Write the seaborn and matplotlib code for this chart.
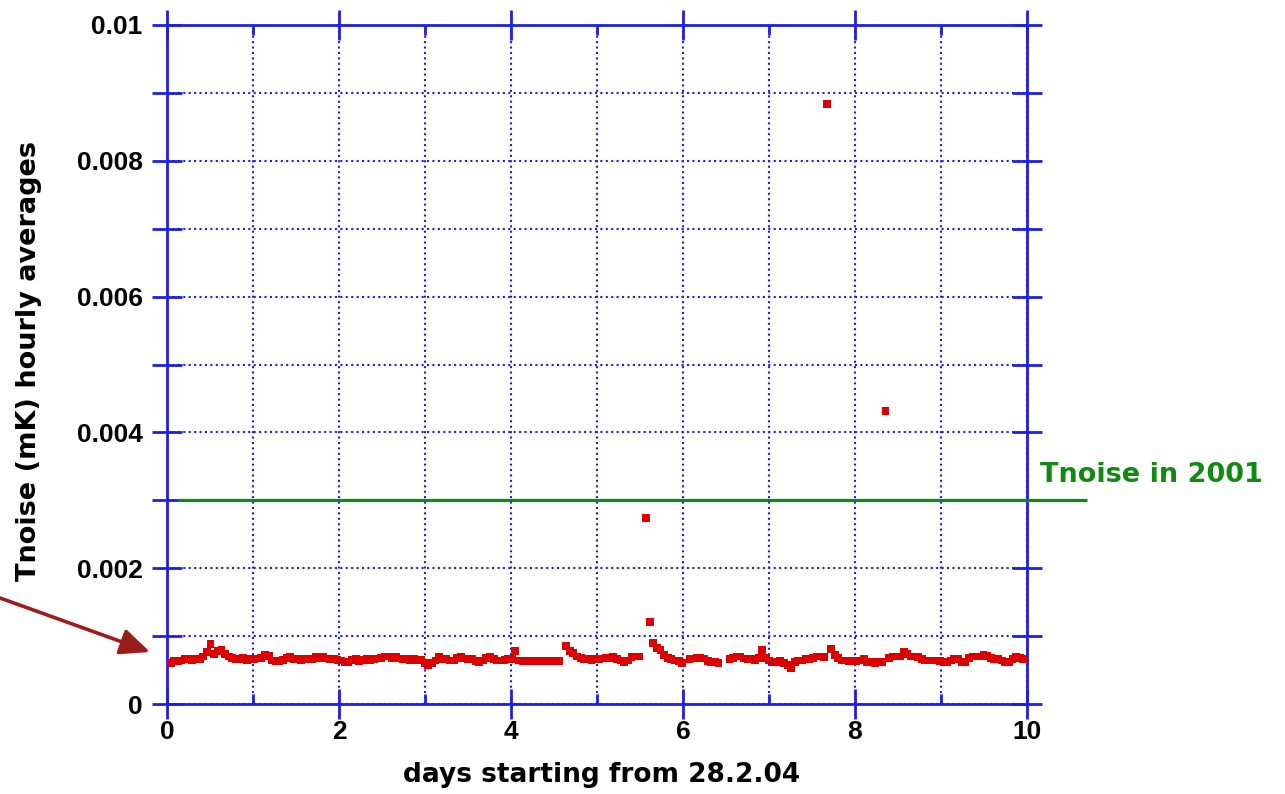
import numpy as np
import pandas as pd
import matplotlib
matplotlib.use("Agg")
import matplotlib.pyplot as plt
import seaborn as sns
from matplotlib.ticker import MultipleLocator, FixedLocator

# ---------------- data ----------------
nan = np.nan
tnoise = [
    # day 0
    0.00060, 0.00061, 0.00063, 0.00063, 0.00064, 0.00066, 0.00066, 0.00065, 0.00067, 0.00066,
    0.00070, 0.00076, 0.00088, 0.00074, 0.00078, 0.00080, 0.00074, 0.00070, 0.00068, 0.00066,
    0.00066, 0.00068, 0.00065, 0.00066,
    # day 1
    0.00066, 0.00067, 0.00068, 0.00072, 0.00071, 0.00064, 0.00063, 0.00063, 0.00065, 0.00068,
    0.00070, 0.00066, 0.00066, 0.00065, 0.00066,
    0.00066, 0.00066, 0.00070, 0.00068, 0.00070, 0.00067, 0.00066, 0.00066, 0.00065, 0.00064,
    0.00062, 0.00062, 0.00065, 0.00066, 0.00063, 0.00065, 0.00066, 0.00065, 0.00066, 0.00067,
    0.00068, 0.00070, 0.00070, 0.00068, 0.00070, 0.00067, 0.00066, 0.00066, 0.00065, 0.00066,
    0.00064, 0.00065, 0.00061, 0.00057, 0.00060, 0.00064, 0.00070, 0.00066, 0.00066,
    0.00064, 0.00064, 0.00068, 0.00070, 0.00067, 0.00066, 0.00066, 0.00063, 0.00062, 0.00064,
    0.00068, 0.00070, 0.00066, 0.00064, 0.00064, 0.00065, 0.00066, 0.00066, 0.00078, 0.00064,
    0.00063, 0.00064, 0.00063, 0.00063, 0.00064, 0.00063, 0.00063, 0.00063, 0.00064, 0.00063,
    0.00063,
    nan,
    0.00085, 0.00078, 0.00075, 0.00070, 0.00068, 0.00066, 0.00066, 0.00065, 0.00066, 0.00066,
    0.00067, 0.00068, 0.00068, 0.00070, 0.00066, 0.00064, 0.00062, 0.00064, 0.00069, 0.00070,
    0.00070,
    nan,
    0.00274, 0.00121,
    0.00090, 0.00083, 0.00080, 0.00072, 0.00068, 0.00066, 0.00064, 0.00063, 0.00060,
    nan,
    0.00066, 0.00067, 0.00068, 0.00068, 0.00067, 0.00063, 0.00062, 0.00062, 0.00060,
    nan, nan,
    0.00066, 0.00068, 0.00070, 0.00070, 0.00067, 0.00066, 0.00066, 0.00064, 0.00068, 0.00080,
    0.00068, 0.00064, 0.00062, 0.00062, 0.00063, 0.00060, 0.00058, 0.00053, 0.00062, 0.00064,
    0.00064, 0.00066, 0.00066, 0.00068, 0.00070, 0.00070, 0.00069,
    0.00884,
    0.00081, 0.00072, 0.00068, 0.00064, 0.00064, 0.00063, 0.00064, 0.00063, 0.00064, 0.00066,
    0.00062, 0.00062, 0.00061, 0.00062, 0.00062,
    0.00432,
    0.00068, 0.00070, 0.00070, 0.00070, 0.00076, 0.00074, 0.00070, 0.00070, 0.00069, 0.00066,
    0.00064, 0.00064, 0.00064, 0.00064, 0.00063, 0.00062, 0.00062, 0.00064, 0.00066, 0.00066,
    0.00062, 0.00062, 0.00068, 0.00070, 0.00070, 0.00070, 0.00072, 0.00071, 0.00068, 0.00066,
    0.00066, 0.00064, 0.00062, 0.00062, 0.00066, 0.00070, 0.00068, 0.00066, 0.00066,
]
days = np.linspace(0, 10, len(tnoise))  # hourly sampling over the 10 days

tnoise_2001 = 0.003
x_tick_values = [0, 2, 4, 6, 8, 10]
x_tick_labels = ["0", "2", "4", "6", "8", "10"]
y_tick_values = [0, 0.002, 0.004, 0.006, 0.008, 0.01]
y_tick_labels = ["0", "0.002", "0.004", "0.006", "0.008", "0.01"]
x_label = "days starting from 28.2.04"
y_label = "Tnoise (mK) hourly averages"
ref_label = "Tnoise in 2001"

df = pd.DataFrame({"days": days, "tnoise": tnoise})

# ---------------- style ----------------
sns.set_theme(style="white")
plt.rcParams["font.family"] = ["DejaVu Sans"]

BLUE = "#1e1ee6"
RED = "#dc0000"
GREEN = "#108a10"
DARKRED = "#9c1c1c"

fig = plt.figure(figsize=(12.85, 7.94), dpi=100, facecolor="white")
ax = fig.add_axes([167 / 1285, 90 / 794, 860 / 1285, 679 / 794])
ax.set_facecolor("white")

sns.scatterplot(data=df, x="days", y="tnoise", marker="s", s=32, color=RED,
                edgecolor="none", linewidth=0, ax=ax, zorder=4, legend=False)

ax.set_xlim(0, 10)
ax.set_ylim(0, 0.01)

# reference line (2001 noise level)
ax.hlines(tnoise_2001, 0.13, 10.7, color=GREEN, lw=2.3, clip_on=False, zorder=3)
ax.text(10.15, tnoise_2001 + 0.00037, ref_label, color=GREEN, fontsize=19.5,
        fontweight="bold", ha="left", va="center", clip_on=False)

# ticks
ax.xaxis.set_major_locator(FixedLocator(x_tick_values))
ax.set_xticklabels(x_tick_labels)
ax.xaxis.set_minor_locator(MultipleLocator(1))
ax.yaxis.set_major_locator(FixedLocator(y_tick_values))
ax.set_yticklabels(y_tick_labels)
ax.yaxis.set_minor_locator(MultipleLocator(0.001))

tick_font = dict(family="Liberation Sans", weight="bold", size=19)
for lab in ax.get_xticklabels() + ax.get_yticklabels():
    lab.set_fontproperties(matplotlib.font_manager.FontProperties(**tick_font))
    lab.set_color("black")

ax.tick_params(axis="both", which="major", direction="inout", length=21, width=2,
               color=BLUE, top=True, right=True, bottom=True, left=True)
ax.tick_params(axis="x", which="major", pad=1)
ax.tick_params(axis="y", which="major", pad=7)
ax.tick_params(axis="x", which="minor", direction="in", length=7, width=2,
               color=BLUE, bottom=True, top=True)
ax.tick_params(axis="y", which="minor", direction="inout", length=21, width=2,
               color=BLUE, left=True, right=True)

# grid
ax.grid(True, which="both", color=BLUE, linestyle=(0, (1, 1.6)), linewidth=1.5)
ax.set_axisbelow(True)

for sp in ax.spines.values():
    sp.set_visible(True)
    sp.set_color(BLUE)
    sp.set_linewidth(2)

# labels
ax.set_xlabel(x_label, fontsize=19, fontweight="bold", color="black")
ax.set_ylabel(y_label, fontsize=19.5, fontweight="bold", color="black")
ax.xaxis.set_label_coords(0.505, -0.085)
ax.yaxis.set_label_coords(-0.145, 0.505)

# arrow pointing at the data
ax.annotate("", xy=(150, 794 - 652), xycoords="figure pixels",
            xytext=(0, 794 - 598), textcoords="figure pixels",
            arrowprops=dict(arrowstyle="-|>,head_length=0.9,head_width=0.4",
                            lw=2.6, color=DARKRED, mutation_scale=20,
                            shrinkA=0, shrinkB=0),
            annotation_clip=False)

fig.savefig("out.png", dpi=100, facecolor="white")
